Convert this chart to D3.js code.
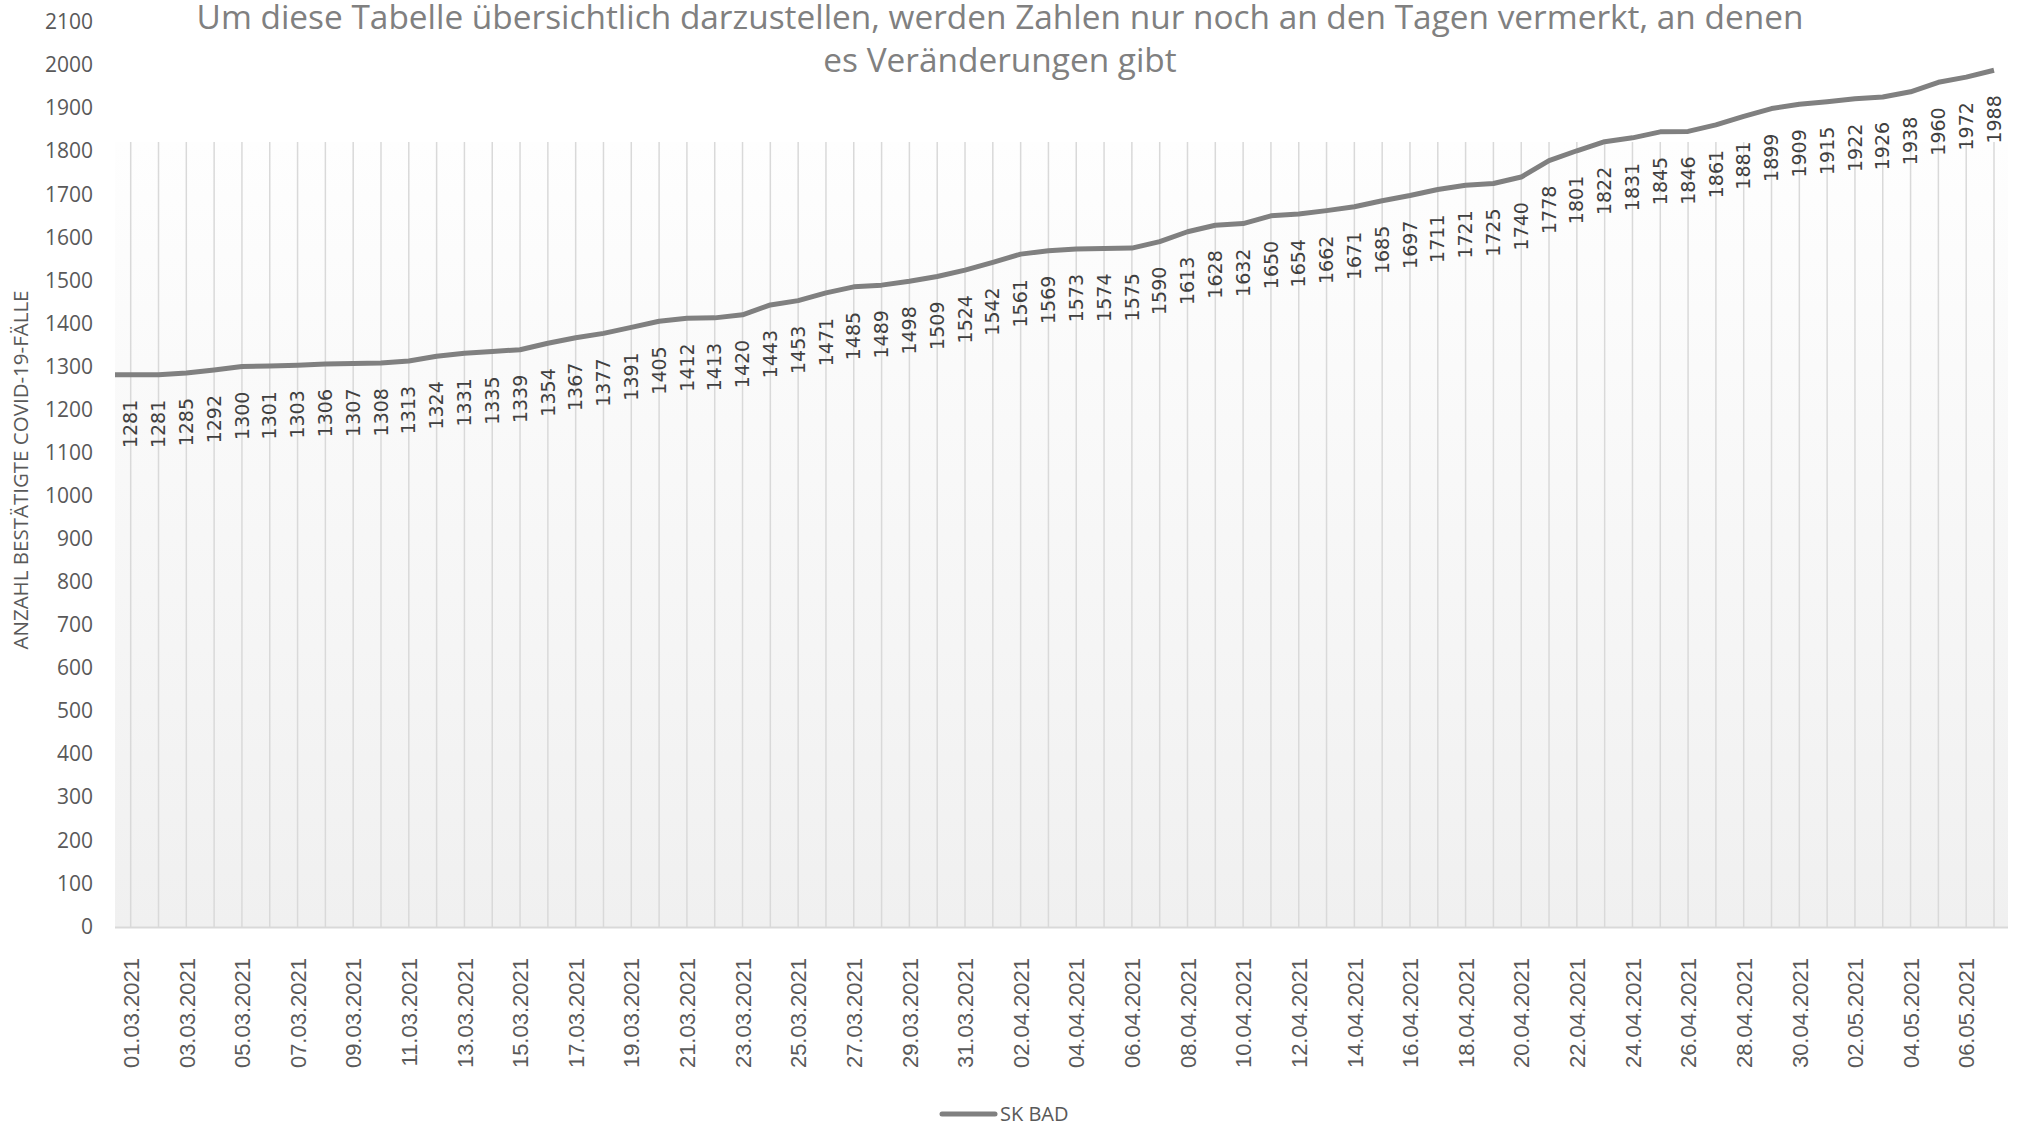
<!DOCTYPE html>
<html>
<head>
<meta charset="utf-8">
<script src="https://cdn.jsdelivr.net/npm/d3@7"></script>
<style>
  body { margin: 0; background: #fff; }
  svg { display: block; }
</style>
</head>
<body>
<script>
var dates = ["01.03.2021","02.03.2021","03.03.2021","04.03.2021","05.03.2021","06.03.2021","07.03.2021","08.03.2021","09.03.2021","10.03.2021",
  "11.03.2021","12.03.2021","13.03.2021","14.03.2021","15.03.2021","16.03.2021","17.03.2021","18.03.2021","19.03.2021","20.03.2021",
  "21.03.2021","22.03.2021","23.03.2021","24.03.2021","25.03.2021","26.03.2021","27.03.2021","28.03.2021","29.03.2021","30.03.2021",
  "31.03.2021","01.04.2021","02.04.2021","03.04.2021","04.04.2021","05.04.2021","06.04.2021","07.04.2021","08.04.2021","09.04.2021",
  "10.04.2021","11.04.2021","12.04.2021","13.04.2021","14.04.2021","15.04.2021","16.04.2021","17.04.2021","18.04.2021","19.04.2021",
  "20.04.2021","21.04.2021","22.04.2021","23.04.2021","24.04.2021","25.04.2021","26.04.2021","27.04.2021","28.04.2021","29.04.2021",
  "30.04.2021","01.05.2021","02.05.2021","03.05.2021","04.05.2021","05.05.2021","06.05.2021","07.05.2021"];
var skBad = [1281,1281,1285,1292,1300,1301,1303,1306,1307,1308,
  1313,1324,1331,1335,1339,1354,1367,1377,1391,1405,
  1412,1413,1420,1443,1453,1471,1485,1489,1498,1509,
  1524,1542,1561,1569,1573,1574,1575,1590,1613,1628,
  1632,1650,1654,1662,1671,1685,1697,1711,1721,1725,
  1740,1778,1801,1822,1831,1845,1846,1861,1881,1899,
  1909,1915,1922,1926,1938,1960,1972,1988];
var yTicks = d3.range(0, 2101, 100);
var seriesName = "SK BAD";
var titleLines = ["Um diese Tabelle übersichtlich darzustellen, werden Zahlen nur noch an den Tagen vermerkt, an denen",
  "es Veränderungen gibt"];

var W = 2027, H = 1128,
	plotLeft = 115, plotRight = 2008, plotTop = 142, plotBottom = 927;

var svg = d3.select("body").append("svg")
	.attr("width", W)
	.attr("height", H);

var defs = svg.append("defs");
var grad = defs.append("linearGradient")
	.attr("id", "bg")
	.attr("x1", 0).attr("y1", 0).attr("x2", 0).attr("y2", 1);
grad.append("stop").attr("offset", "0%").attr("stop-color", "#fefefe");
grad.append("stop").attr("offset", "100%").attr("stop-color", "#f0f0f0");

var x = d3.scalePoint()
	.domain(dates)
	.range([130.7, 1994]);

var y = d3.scaleLinear()
	.domain([0, 2100])
	.range([926.4, 22]);

// plot background
svg.append("rect")
	.attr("x", plotLeft)
	.attr("y", plotTop)
	.attr("width", plotRight - plotLeft)
	.attr("height", plotBottom - plotTop)
	.style("fill", "url(#bg)");

// vertical gridlines, one per day
svg.selectAll(".vgrid")
	.data(dates)
	.enter().append("line")
	.attr("class", "vgrid")
	.attr("x1", function(d) { return x(d); })
	.attr("x2", function(d) { return x(d); })
	.attr("y1", plotTop)
	.attr("y2", plotBottom)
	.style("stroke", "#d9d9d9")
	.style("stroke-width", 1.5);

// baseline
svg.append("line")
	.attr("x1", plotLeft)
	.attr("x2", plotRight)
	.attr("y1", y(0) + 1)
	.attr("y2", y(0) + 1)
	.style("stroke", "#d9d9d9")
	.style("stroke-width", 2);

// y axis labels
var yAxis = svg.append("g")
	.attr("transform", "translate(93,0)")
	.call(d3.axisLeft(y).tickValues(yTicks).tickFormat(d3.format("d")).tickSize(0).tickPadding(0));
yAxis.select(".domain").remove();
yAxis.selectAll("text")
	.style("font-family", "'Open Sans', sans-serif")
	.style("font-size", "21px")
	.style("fill", "#595959");

// x axis labels, every other day
var xAxis = svg.append("g")
	.attr("transform", "translate(0," + 958 + ")")
	.call(d3.axisBottom(x).tickValues(dates.filter(function(d, i) { return i % 2 === 0; })).tickSize(0).tickPadding(0));
xAxis.select(".domain").remove();
xAxis.selectAll("text")
	.attr("transform", "rotate(-90)")
	.attr("x", 0)
	.attr("y", 0)
	.attr("dy", "0.35em")
	.style("text-anchor", "end")
	.style("font-family", "'Liberation Sans', Arial, sans-serif")
	.style("font-size", "22px")
	.style("fill", "#595959");

// y axis title
svg.append("text")
	.attr("transform", "translate(28,470) rotate(-90)")
	.style("text-anchor", "middle")
	.style("font-family", "'Open Sans', sans-serif")
	.style("font-size", "20.5px")
	.style("fill", "#595959")
	.text("ANZAHL BESTÄTIGTE COVID-19-FÄLLE");

// series line (Excel draws the first value from the plot edge)
var pts = skBad.map(function(v, i) { return [x(dates[i]), y(v)]; });
pts.unshift([plotLeft, y(skBad[0])]);
svg.append("path")
	.datum(pts)
	.attr("d", d3.line())
	.style("fill", "none")
	.style("stroke", "#808080")
	.style("stroke-width", 5)
	.style("stroke-linejoin", "round");

// data labels below each point
svg.selectAll(".dlabel")
	.data(skBad)
	.enter().append("text")
	.attr("class", "dlabel")
	.attr("transform", function(d, i) { return "translate(" + x(dates[i]) + "," + (y(d) + 25) + ") rotate(-90)"; })
	.attr("dy", "0.35em")
	.style("text-anchor", "end")
	.style("font-family", "'DejaVu Sans', sans-serif")
	.style("font-size", "19px")
	.style("fill", "#404040")
	.text(function(d) { return d; });

// title
svg.selectAll(".title")
	.data(titleLines)
	.enter().append("text")
	.attr("class", "title")
	.attr("x", 1000)
	.attr("y", function(d, i) { return 29 + i * 43; })
	.style("text-anchor", "middle")
	.style("font-family", "'Open Sans', sans-serif")
	.style("font-size", "33.4px")
	.style("fill", "#808080")
	.text(function(d) { return d; });

// legend
var legend = svg.append("g").attr("class", "legend");
legend.append("line")
	.attr("x1", 942).attr("x2", 995)
	.attr("y1", 1114).attr("y2", 1114)
	.style("stroke", "#808080")
	.style("stroke-width", 5)
	.style("stroke-linecap", "round");
legend.append("text")
	.attr("x", 1000)
	.attr("y", 1121)
	.style("font-family", "'Open Sans', sans-serif")
	.style("font-size", "20px")
	.style("fill", "#595959")
	.text(seriesName);
</script>
</body>
</html>
